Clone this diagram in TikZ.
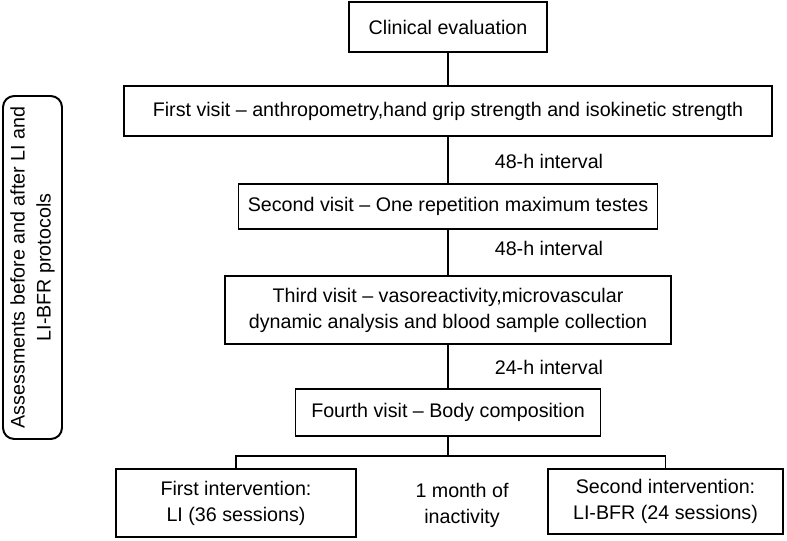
\documentclass[tikz,border=0pt]{standalone}
\usepackage{fontspec}
\setmainfont{Liberation Sans}
\usepackage{tikz}

\begin{document}
\begin{tikzpicture}[font=\fontsize{14}{18.5}\selectfont,
  box/.style={rectangle,draw,line width=1.4pt,align=center,inner sep=2pt},
  link/.style={line width=1.4pt}]
\useasboundingbox (0,0) rectangle (19.675,13.5);
\node (CE) at (11.2,12.825) [box,minimum width=4.95cm,minimum height=1.25cm] {Clinical evaluation};
\node (V1) at (11.2,10.725) [box,minimum width=16.2cm,minimum height=1.25cm] {First visit – anthropometry,hand grip strength and isokinetic strength};
\node (V2) at (11.2,8.3375) [box,minimum width=10.475cm,minimum height=1.125cm] {Second visit – One repetition maximum testes};
\node (V3) at (11.2,5.75) [box,minimum width=11.15cm,minimum height=1.7cm] {Third visit – vasoreactivity,microvascular\\dynamic analysis and blood sample collection};
\node (V4) at (11.2,3.1875) [box,minimum width=7.625cm,minimum height=1.175cm] {Fourth visit – Body composition};
\node (I1) at (5.9,0.925) [box,minimum width=6.0cm,minimum height=1.7cm] {First intervention:\\LI (36 sessions)};
\node (I2) at (16.6375,0.9625) [box,minimum width=5.875cm,minimum height=1.625cm] {Second intervention:\\LI-BFR (24 sessions)};
\node (T) at (11.55,0.875) [align=center] {1 month of\\inactivity};
\node (L1) at (13.725,9.475) {48-h interval};
\node (L2) at (13.725,7.3) {48-h interval};
\node (L3) at (13.725,4.325) {24-h interval};
\node (A) at (0.8125,6.8125) [box,rounded corners=8pt,rotate=90,minimum width=8.575cm,minimum height=1.475cm] {Assessments before and after LI and\\LI-BFR protocols};
\coordinate (S) at (11.2,2.1);

\draw [link] (CE) -- (V1);
\draw [link] (V1) -- (V2);
\draw [link] (V2) -- (V3);
\draw [link] (V3) -- (V4);
\draw [link] (V4) -- (S);
\draw [link] (I1.north) |- (S) -| (I2.north);
\end{tikzpicture}
\end{document}
